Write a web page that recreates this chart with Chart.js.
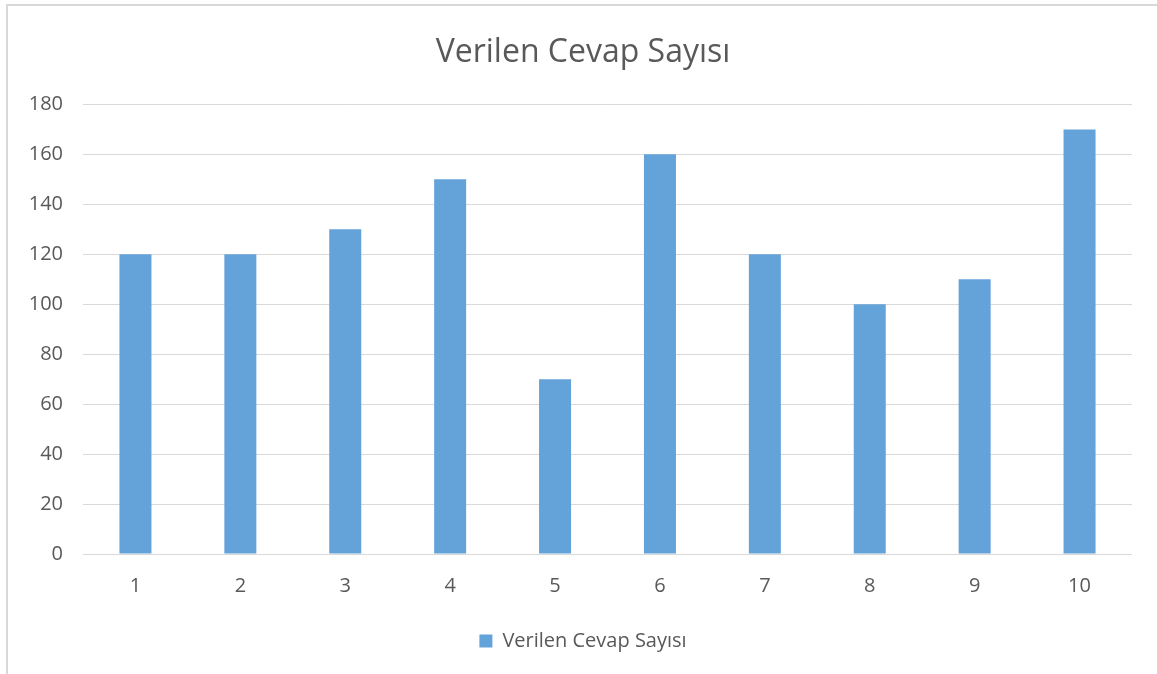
<!DOCTYPE html>
<html>
<head>
<meta charset="utf-8">
<script src="https://cdn.jsdelivr.net/npm/chart.js@4.4.0/dist/chart.umd.min.js"></script>
<style>
    html, body { margin: 0; padding: 0; background: #ffffff; }
    #wrap { position: relative; width: 1157px; height: 674px; overflow: hidden; }
    #frame { position: absolute; left: 6px; top: 4px; width: 1300px; height: 800px;
             border-left: 2px solid #d9d9d9; border-top: 2px solid #d9d9d9; pointer-events: none; }
    canvas { position: absolute; left: 0; top: 0; }
</style>
</head>
<body>
<div id="wrap">
    <canvas id="chart" width="1166" height="674"></canvas>
    <div id="frame"></div>
</div>
<script>
    // --- DADOS ---
    const categories = ['1', '2', '3', '4', '5', '6', '7', '8', '9', '10'];
    const answers = [120, 120, 130, 150, 70, 160, 120, 100, 110, 170];
    const seriesName = 'Verilen Cevap Sayısı';
    const yMax = 180;
    const yStep = 20;

    const textColor = '#595959';
    const gridColor = '#d9d9d9';
    const fontFamily = "'Open Sans', 'Liberation Sans', sans-serif";

    const ctx = document.getElementById('chart').getContext('2d');
    new Chart(ctx, {
        type: 'bar',
        data: {
            labels: categories,
            datasets: [{
                label: seriesName,
                data: answers,
                backgroundColor: '#64a2da',
                borderWidth: 0,
                barPercentage: 0.305,
                categoryPercentage: 1.0
            }]
        },
        options: {
            responsive: false,
            animation: false,
            layout: { padding: { left: 0, right: 0, top: 0, bottom: 13 } },
            plugins: {
                title: {
                    display: true,
                    text: seriesName,
                    color: textColor,
                    font: { family: fontFamily, size: 32, weight: 'normal' },
                    padding: { top: 34, bottom: 32 }
                },
                legend: {
                    position: 'bottom',
                    labels: {
                        color: textColor,
                        font: { family: fontFamily, size: 20 },
                        boxWidth: 13,
                        boxHeight: 13,
                        padding: 10
                    }
                },
                tooltip: { enabled: false }
            },
            scales: {
                x: {
                    grid: { display: false, drawTicks: false },
                    border: { display: false },
                    ticks: { color: textColor, font: { family: fontFamily, size: 20 }, padding: 20 },
                    afterFit: (scale) => { scale.height = 67; }
                },
                y: {
                    min: 0,
                    max: yMax,
                    grid: { color: gridColor, lineWidth: 1, drawTicks: false },
                    border: { display: false },
                    ticks: { stepSize: yStep, color: textColor, font: { family: fontFamily, size: 20 }, padding: 20 },
                    afterFit: (scale) => { scale.width = 83; }
                },
                // eixo vazio à direita, só para reservar espaço (título e legenda ficam centrados no quadro)
                yRight: {
                    position: 'right',
                    grid: { display: false },
                    border: { display: false },
                    ticks: { display: false },
                    afterFit: (scale) => { scale.width = 34; }
                }
            }
        }
    });
</script>
</body>
</html>
